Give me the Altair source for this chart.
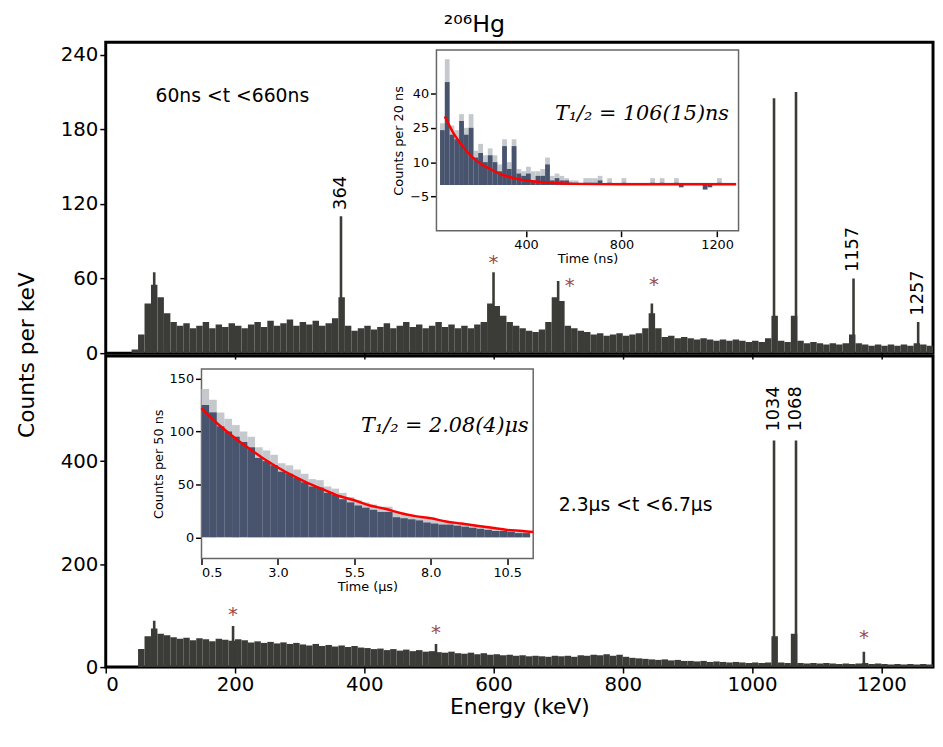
import altair as alt
import pandas as pd
import numpy as np

FONT = "DejaVu Sans"
SPEC = "#3b3b37"
DARK = "#48546e"
LIGHT = "#c5c9ce"
STAR = "#9a4a4a"

# ---- main spectra, 10 keV bins starting at 0 keV ----
top_counts = [0, 0, 0, 0, 3, 15, 40, 55, 45, 32,
              25, 22, 24, 20, 22, 25, 20, 23, 21, 24,
              22, 20, 23, 25, 21, 26, 22, 24, 27, 22,
              25, 23, 26, 22, 24, 28, 45, 22, 18, 20,
              22, 19, 21, 24, 20, 22, 25, 21, 23, 20,
              22, 25, 21, 23, 20, 22, 20, 23, 25, 40,
              38, 30, 25, 22, 20, 18, 17, 19, 25, 45,
              42, 22, 20, 18, 17, 15, 16, 14, 15, 16,
              14, 15, 16, 20, 32, 20, 13, 14, 12, 13,
              12, 11, 12, 11, 10, 11, 10, 11, 10, 9,
              10, 9, 12, 30, 10, 9, 30, 10, 8, 9,
              8, 7, 8, 7, 8, 15, 8, 7, 6, 7,
              6, 7, 6, 7, 6, 8, 7, 6]
top_peaks_e = [75, 364, 600, 700, 845, 1034, 1068, 1157, 1257]
top_peaks_c = [65, 110, 65, 58, 40, 205, 210, 60, 25]

bot_counts = [0, 0, 0, 0, 0, 35, 60, 75, 65, 62,
              58, 55, 57, 52, 56, 54, 50, 55, 53, 51,
              54, 52, 48, 50, 47, 49, 46, 48, 45, 47,
              44, 42, 45, 41, 43, 40, 42, 39, 41, 38,
              37, 35, 36, 33, 35, 32, 34, 31, 33, 30,
              31, 29, 28, 30, 27, 26, 28, 25, 27, 24,
              25, 23, 24, 22, 23, 21, 22, 21, 20, 22,
              21, 22, 20, 23, 22, 24, 23, 25, 22, 24,
              20, 18, 17, 16, 15, 14, 15, 13, 14, 12,
              12, 11, 12, 10, 11, 10, 9, 10, 9, 8,
              9, 8, 9, 60, 9, 8, 65, 8, 7, 8,
              7, 8, 7, 6, 7, 6, 7, 8, 6, 7,
              6, 5, 6, 5, 6, 5, 6, 5]
bot_peaks_e = [75, 197, 511, 1034, 1068, 1173]
bot_peaks_c = [90, 80, 45, 440, 440, 30]

# ---- top inset: 20 ns bins from 40 ns ----
ti_dark = [24, 45, 22, 20, 28, 22, 25, 12, 14, 10,
           13, 10, 6, 17, 7, 17, 5, 4, 5, 2,
           4, 4, 9, 2, 3, 2, 2, 1, 1, 0,
           1, 1, 1, 2, 0, 1, 0, 0, 1, 0,
           0, 0, 0, 0, 1, 0, 1, 0, 0, 1,
           -1, 0, 0, 0, 0, -2, -1, 0, 1, 0, 0, 0]
ti_light = [27, 55, 26, 24, 31, 25, 31, 15, 18, 13,
            16, 13, 9, 20, 10, 20, 7, 6, 8, 6,
            6, 7, 12, 4, 5, 4, 3, 2, 2, 1,
            3, 3, 3, 4, 1, 3, 1, 1, 3, 1,
            1, 1, 1, 1, 3, 1, 3, 1, 1, 3,
            1, 1, 1, 1, 1, 1, 1, 1, 3, 1, 1, 1]
ti_fit_t = [60, 100, 150, 200, 250, 300, 350, 400, 500, 600, 800, 1280]
ti_fit_c = [30, 22, 15, 10, 7, 4.5, 3, 2, 1, 0.5, 0.3, 0.3]

# ---- bottom inset: 0.25 us bins from 0.5 us ----
bi_dark = [125, 118, 105, 100, 95, 90, 85, 75, 72, 68,
           62, 60, 56, 52, 48, 47, 42, 40, 36, 33,
           30, 28, 26, 24, 24, 19, 18, 17, 16, 14,
           13, 12, 12, 11, 10, 9, 8, 7, 6, 6,
           5, 4, 4]
bi_light = [140, 130, 118, 112, 106, 100, 95, 85, 82, 78,
            70, 68, 64, 60, 55, 54, 48, 46, 42, 38,
            35, 33, 31, 29, 29, 24, 22, 21, 20, 18,
            17, 16, 15, 14, 13, 12, 11, 10, 8, 8,
            7, 5, 5]
bi_fit_t = [0.5, 1, 1.5, 2, 2.5, 3, 3.5, 4, 4.5, 5, 5.5, 6, 6.5, 7, 7.5,
            8, 8.5, 9, 9.5, 10, 10.5, 11, 11.35]
bi_fit_c = [122, 108, 96, 85, 75, 66, 58, 51, 45, 39, 35, 30, 27, 23, 20,
            18, 15, 13, 11, 9, 7, 6, 5]

W, H = 838, 315
EDOM = [0, 1280]


def spectrum_df(counts, width, start=0.0):
    e = start + np.arange(len(counts)) * width
    return pd.DataFrame({"lo": e, "hi": e + width, "c": counts})


def peaks_df(es, cs, w=4):
    return pd.DataFrame({"lo": np.array(es) - w / 2, "hi": np.array(es) + w / 2, "c": cs})


def main_layer(counts, pe, pc, ydom, yticks, show_x, labels, stars, note):
    xax = alt.Axis(values=[0, 200, 400, 600, 800, 1000, 1200], labels=show_x,
                   format="d", title="Energy (keV)" if show_x else None, grid=False,
                   labelFontSize=20, titleFontSize=22, tickColor="black",
                   domainColor="black", labelFont=FONT, titleFont=FONT,
                   titlePadding=2)
    yax = alt.Axis(values=yticks, title=None, grid=False, labelFontSize=20,
                   labelFont=FONT, tickColor="black", domainColor="black")
    xs = alt.Scale(domain=EDOM, nice=False)
    ys = alt.Scale(domain=ydom, nice=False)
    bg = alt.Chart(spectrum_df(counts, 10)).mark_bar(color=SPEC, clip=True).encode(
        x=alt.X("lo:Q", scale=xs, axis=xax), x2="hi:Q",
        y=alt.Y("c:Q", scale=ys, axis=yax), y2=alt.datum(0))
    pk = alt.Chart(peaks_df(pe, pc)).mark_bar(color=SPEC, clip=True).encode(
        x="lo:Q", x2="hi:Q", y="c:Q", y2=alt.datum(0))
    lab = alt.Chart(pd.DataFrame(labels, columns=["lo", "c", "t"])).mark_text(
        angle=270, align="left", baseline="middle", fontSize=18, font=FONT, dx=4
    ).encode(x="lo:Q", y="c:Q", text="t:N")
    st = alt.Chart(pd.DataFrame(stars, columns=["lo", "c"])).mark_text(
        text="*", fontSize=20, color=STAR, font=FONT, baseline="top"
    ).encode(x="lo:Q", y="c:Q")
    nt = alt.Chart(pd.DataFrame([note], columns=["lo", "c", "t"])).mark_text(
        align="left", fontSize=19, font=FONT
    ).encode(x="lo:Q", y="c:Q", text="t:N")
    return alt.layer(bg, pk, lab, st, nt)


def inset_layer(dark, light, width, start, fit_t, fit_c, xdom, ydom, xr, yr,
                xticks, yticks, xfmt, xtitle, ytitle, formula, fpos):
    xs = alt.Scale(domain=xdom, range=xr, nice=False)
    ys = alt.Scale(domain=ydom, range=yr, nice=False)
    xax = alt.Axis(values=xticks, format=xfmt, title=xtitle, orient="bottom",
                   offset=-(H - yr[0]), grid=False, labelFontSize=13,
                   titleFontSize=13, titlePadding=1, labelFont=FONT,
                   titleFont=FONT, domain=False, tickColor="black")
    yax = alt.Axis(values=yticks, title=ytitle, orient="left", offset=-xr[0],
                   grid=False, labelFontSize=13, titleFontSize=13,
                   labelFont=FONT, titleFont=FONT, domain=False,
                   tickColor="black", titlePadding=4)
    frame = alt.Chart(pd.DataFrame({"a": [0]})).mark_rect(
        fill="white", stroke="#666", strokeWidth=1.5).encode(
        x=alt.X("x:Q", scale=xs, axis=xax), x2="x2:Q",
        y=alt.Y("y:Q", scale=ys, axis=yax), y2="y2:Q"
    ).transform_calculate(x=str(xdom[0]), x2=str(xdom[1]),
                          y=str(ydom[0]), y2=str(ydom[1]))
    df = spectrum_df(dark, width, start)
    df["l"] = light
    lb = alt.Chart(df).mark_bar(color=LIGHT).encode(
        x="lo:Q", x2="hi:Q", y="l:Q", y2=alt.datum(0))
    db = alt.Chart(df).mark_bar(color=DARK).encode(
        x="lo:Q", x2="hi:Q", y="c:Q", y2=alt.datum(0))
    fit = alt.Chart(pd.DataFrame({"x": fit_t, "y": fit_c})).mark_line(
        color="red", strokeWidth=2.5, interpolate="monotone").encode(x="x:Q", y="y:Q")
    ft = alt.Chart(pd.DataFrame({"x": [fpos[0]], "y": [fpos[1]]})).mark_text(
        text=formula, font="DejaVu Serif", fontStyle="italic", fontSize=21,
        align="right").encode(x="x:Q", y="y:Q")
    return alt.layer(frame, lb, db, fit, ft)


top_main = main_layer(
    top_counts, top_peaks_e, top_peaks_c, [0, 250], [0, 60, 120, 180, 240], False,
    [(364, 112, "364"), (1157, 62, "1157"), (1257, 27, "1257")],
    [(600, 80), (718, 62), (848, 63)],
    (77, 207, "60ns <t <660ns"))
top_inset = inset_layer(
    ti_dark, ti_light, 20, 40, ti_fit_t, ti_fit_c, [25, 1290], [-20, 59],
    [335, 641], [191, 8], [400, 800, 1200], [-5, 10, 25, 40], "d",
    "Time (ns)", "Counts per 20 ns", "T\u2081/\u2082 = 106(15)ns", (1250, 31))
y_title = alt.Chart(pd.DataFrame({"a": [0]})).mark_text(
    text="Counts per keV", angle=270, fontSize=22, font=FONT).encode(
    x=alt.value(-80), y=alt.value(H + 2))
top = alt.layer(top_main, top_inset, y_title).resolve_scale(
    x="independent", y="independent").properties(width=W, height=H)

bot_main = main_layer(
    bot_counts, bot_peaks_e, bot_peaks_c, [0, 604], [0, 200, 400], True,
    [(1034, 450, "1034"), (1068, 450, "1068")],
    [(197, 120), (511, 85), (1173, 75)],
    (701, 315, "2.3\u03bcs <t <6.7\u03bcs"))
bot_inset = inset_layer(
    bi_dark, bi_light, 0.25, 0.5, bi_fit_t, bi_fit_c, [0.5, 11.35], [-20, 159],
    [97, 433], [205, 13], [0.5, 3.0, 5.5, 8.0, 10.5], [0, 50, 100, 150], ".1f",
    "Time (\u03bcs)", "Counts per 50 ns", "T\u2081/\u2082 = 2.08(4)\u03bcs", (11.2, 105))
bottom = alt.layer(bot_main, bot_inset).resolve_scale(
    x="independent", y="independent").properties(width=W, height=H)

chart = alt.vconcat(top, bottom, spacing=3, bounds="flush").properties(
    title=alt.TitleParams("\u00b2\u2070\u2076Hg", fontSize=24, font=FONT,
                          fontWeight="normal", anchor="middle", offset=4),
    padding={"left": 6, "top": 0, "right": 0, "bottom": 0}
).configure_view(stroke="black", strokeWidth=3).configure_axis(
    tickSize=6, tickWidth=1.5, labelColor="black", titleColor="black",
    titleFontWeight="normal")

chart.save("out.html", embed_options={"renderer": "svg", "actions": False})
